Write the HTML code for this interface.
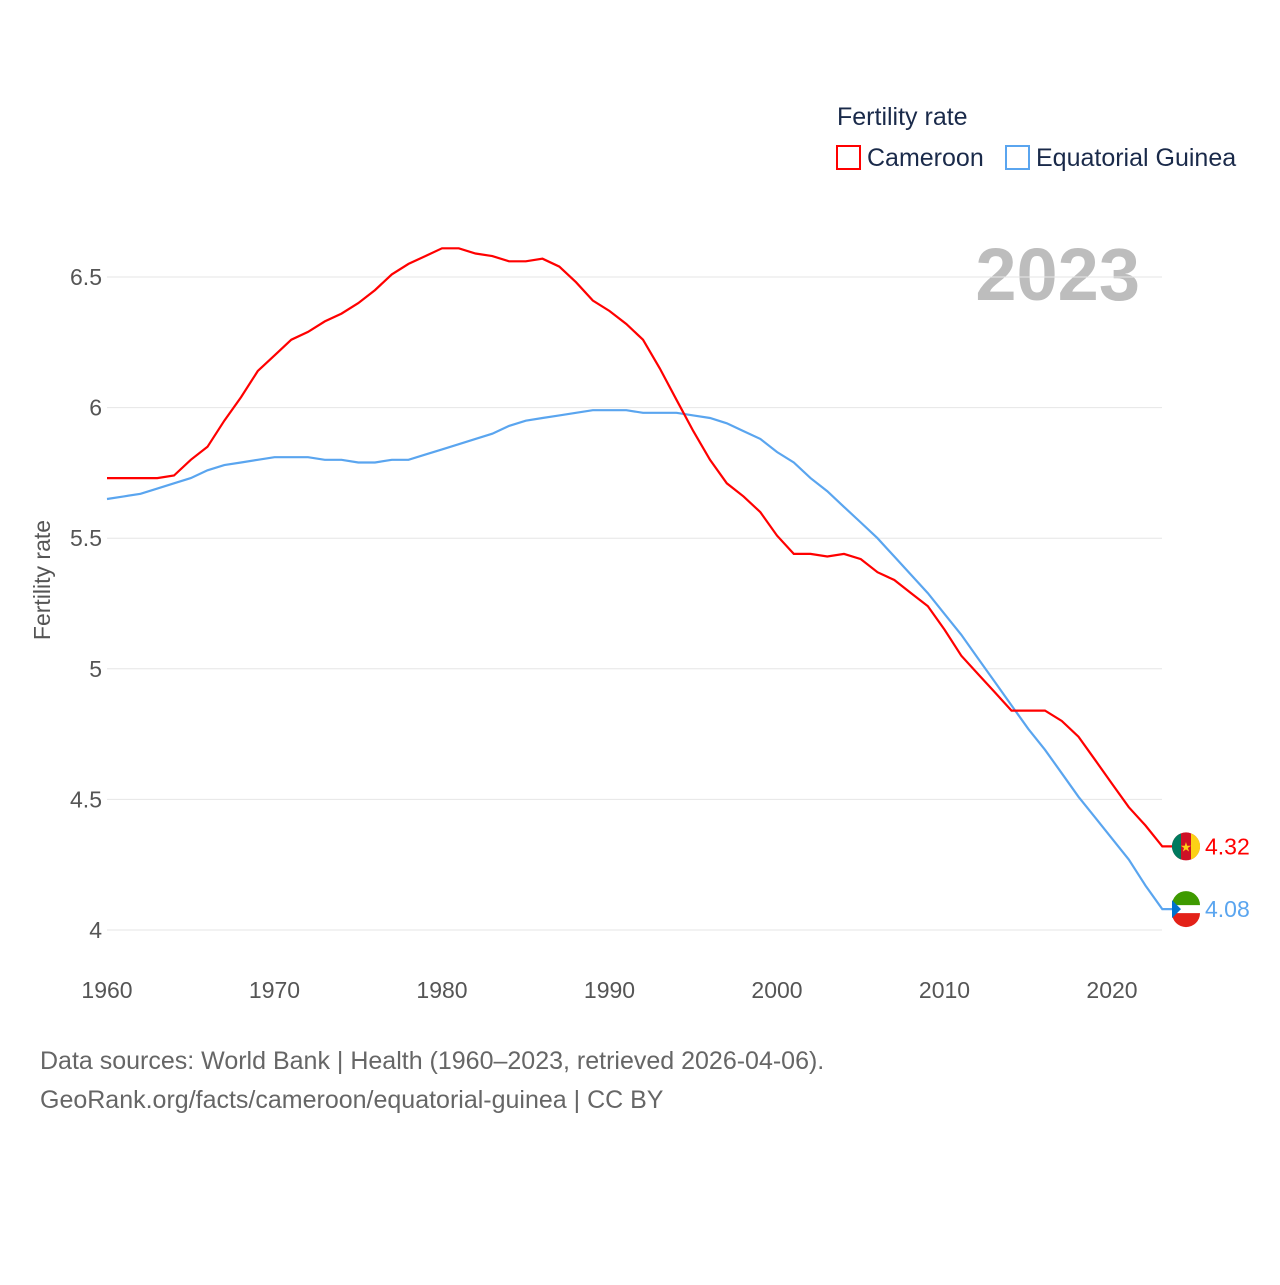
<!DOCTYPE html>
<html><head><meta charset="utf-8"><style>
body{margin:0;background:#fff;font-family:"Liberation Sans",sans-serif;}
svg text{font-family:"Liberation Sans",sans-serif;}
</style></head><body>
<svg width="1280" height="1280">
<text x="837" y="125" font-size="25" fill="#1a2a4a">Fertility rate</text>
<rect x="837" y="146" width="23" height="23" fill="none" stroke="#f00" stroke-width="2"/>
<text x="867" y="166" font-size="25" fill="#1a2a4a">Cameroon</text>
<rect x="1006" y="146" width="23" height="23" fill="none" stroke="#5aa5ef" stroke-width="2"/>
<text x="1036" y="166" font-size="25" fill="#1a2a4a">Equatorial Guinea</text>
<text x="1140" y="300" font-size="74" font-weight="bold" fill="#bdbdbd" text-anchor="end">2023</text>
<g id="grid"></g><g id="ylab"></g><g id="xlab"></g><g id="lines"></g>
<text transform="translate(50,580) rotate(-90)" font-size="23" fill="#555" text-anchor="middle">Fertility rate</text>
<text x="40" y="1069" font-size="25" fill="#666">Data sources: World Bank | Health (1960–2023, retrieved 2026-04-06).</text>
<text x="40" y="1108" font-size="25" fill="#666">GeoRank.org/facts/cameroon/equatorial-guinea | CC BY</text>
</svg>
<script>
const years=[];for(let y=1960;y<=2023;y++)years.push(y);
const cameroon=[5.73,5.73,5.73,5.73,5.74,5.80,5.85,5.95,6.04,6.14,6.20,6.26,6.29,6.33,6.36,6.40,6.45,6.51,6.55,6.58,6.61,6.61,6.59,6.58,6.56,6.56,6.57,6.54,6.48,6.41,6.37,6.32,6.26,6.15,6.03,5.91,5.80,5.71,5.66,5.60,5.51,5.44,5.44,5.43,5.44,5.42,5.37,5.34,5.29,5.24,5.15,5.05,4.98,4.91,4.84,4.84,4.84,4.80,4.74,4.65,4.56,4.47,4.40,4.32];
const eqGuinea=[5.65,5.66,5.67,5.69,5.71,5.73,5.76,5.78,5.79,5.80,5.81,5.81,5.81,5.80,5.80,5.79,5.79,5.80,5.80,5.82,5.84,5.86,5.88,5.90,5.93,5.95,5.96,5.97,5.98,5.99,5.99,5.99,5.98,5.98,5.98,5.97,5.96,5.94,5.91,5.88,5.83,5.79,5.73,5.68,5.62,5.56,5.50,5.43,5.36,5.29,5.21,5.13,5.04,4.95,4.86,4.77,4.69,4.60,4.51,4.43,4.35,4.27,4.17,4.08];
const yTicks=[4,4.5,5,5.5,6,6.5];
const yTickLabels=["4","4.5","5","5.5","6","6.5"];
const xTicks=[1960,1970,1980,1990,2000,2010,2020];
const NS="http://www.w3.org/2000/svg";
const X=v=>107+(v-1960)*(1112-107)/60;
const Y=v=>930-(v-4)*(930-277)/2.5;
function mk(t,a,p){const e=document.createElementNS(NS,t);for(const k in a)e.setAttribute(k,a[k]);document.getElementById(p).appendChild(e);return e;}
yTicks.forEach((t,i)=>{
 const l=mk('line',{x1:107,x2:1162,y1:Y(t),y2:Y(t),stroke:'#e6e6e6','stroke-width':1},'grid');
 
 
 const tx=mk('text',{x:102,y:Y(t)+8,'font-size':23,fill:'#555','text-anchor':'end'},'ylab');tx.textContent=yTickLabels[i];
 
 
});
xTicks.forEach(t=>{
 const tx=mk('text',{x:X(t),y:998,'font-size':23,fill:'#555','text-anchor':'middle'},'xlab');tx.textContent=t;
 
 
});
function series(vals,color,name,flag){
 let d=vals.map((v,i)=>(i?'L':'M')+X(years[i]).toFixed(1)+','+Y(v).toFixed(1)).join(' ');
 const ly=Y(vals[vals.length-1]);
 d+=' L1172,'+ly.toFixed(1);
 const p=mk('path',{d:d,fill:'none',stroke:color,'stroke-width':2.2},'lines');
 
 
 const g=mk('g',{},'lines');
 
 
 const cx=1186;
 if(flag==='cm'){
  mk('circle',{cx:cx,cy:ly,r:14,fill:'#ce1126'},'lines');
  mk('path',{d:`M${cx-5},${ly-13.1} A14,14 0 0 0 ${cx-5},${ly+13.1} Z`,fill:'#007a5e'},'lines');
  mk('path',{d:`M${cx+5},${ly-13.1} A14,14 0 0 1 ${cx+5},${ly+13.1} Z`,fill:'#fcd116'},'lines');
  const s=mk('text',{x:cx,y:ly+5,'font-size':13,fill:'#fcd116','text-anchor':'middle'},'lines');s.textContent='★';
 }else{
  mk('circle',{cx:cx,cy:ly,r:14,fill:'#fff'},'lines');
  mk('path',{d:`M${cx-14},${ly-4} A14,14 0 0 1 ${cx+14},${ly-4} Z`,fill:'#3e9a00'},'lines');
  mk('path',{d:`M${cx-14},${ly+4} A14,14 0 0 0 ${cx+14},${ly+4} Z`,fill:'#e32118'},'lines');
  mk('path',{d:`M${cx-14},${ly-9} L${cx-5},${ly} L${cx-14},${ly+9} Z`,fill:'#0073ce'},'lines');
 }
 const t=mk('text',{x:1205,y:ly+8,'font-size':23,fill:color},'lines');t.textContent=vals[vals.length-1].toFixed(2);
 
 
}
series(eqGuinea,'#5aa5ef','equatorial-guinea','gq');
series(cameroon,'#f00','cameroon','cm');
</script>
</body></html>
